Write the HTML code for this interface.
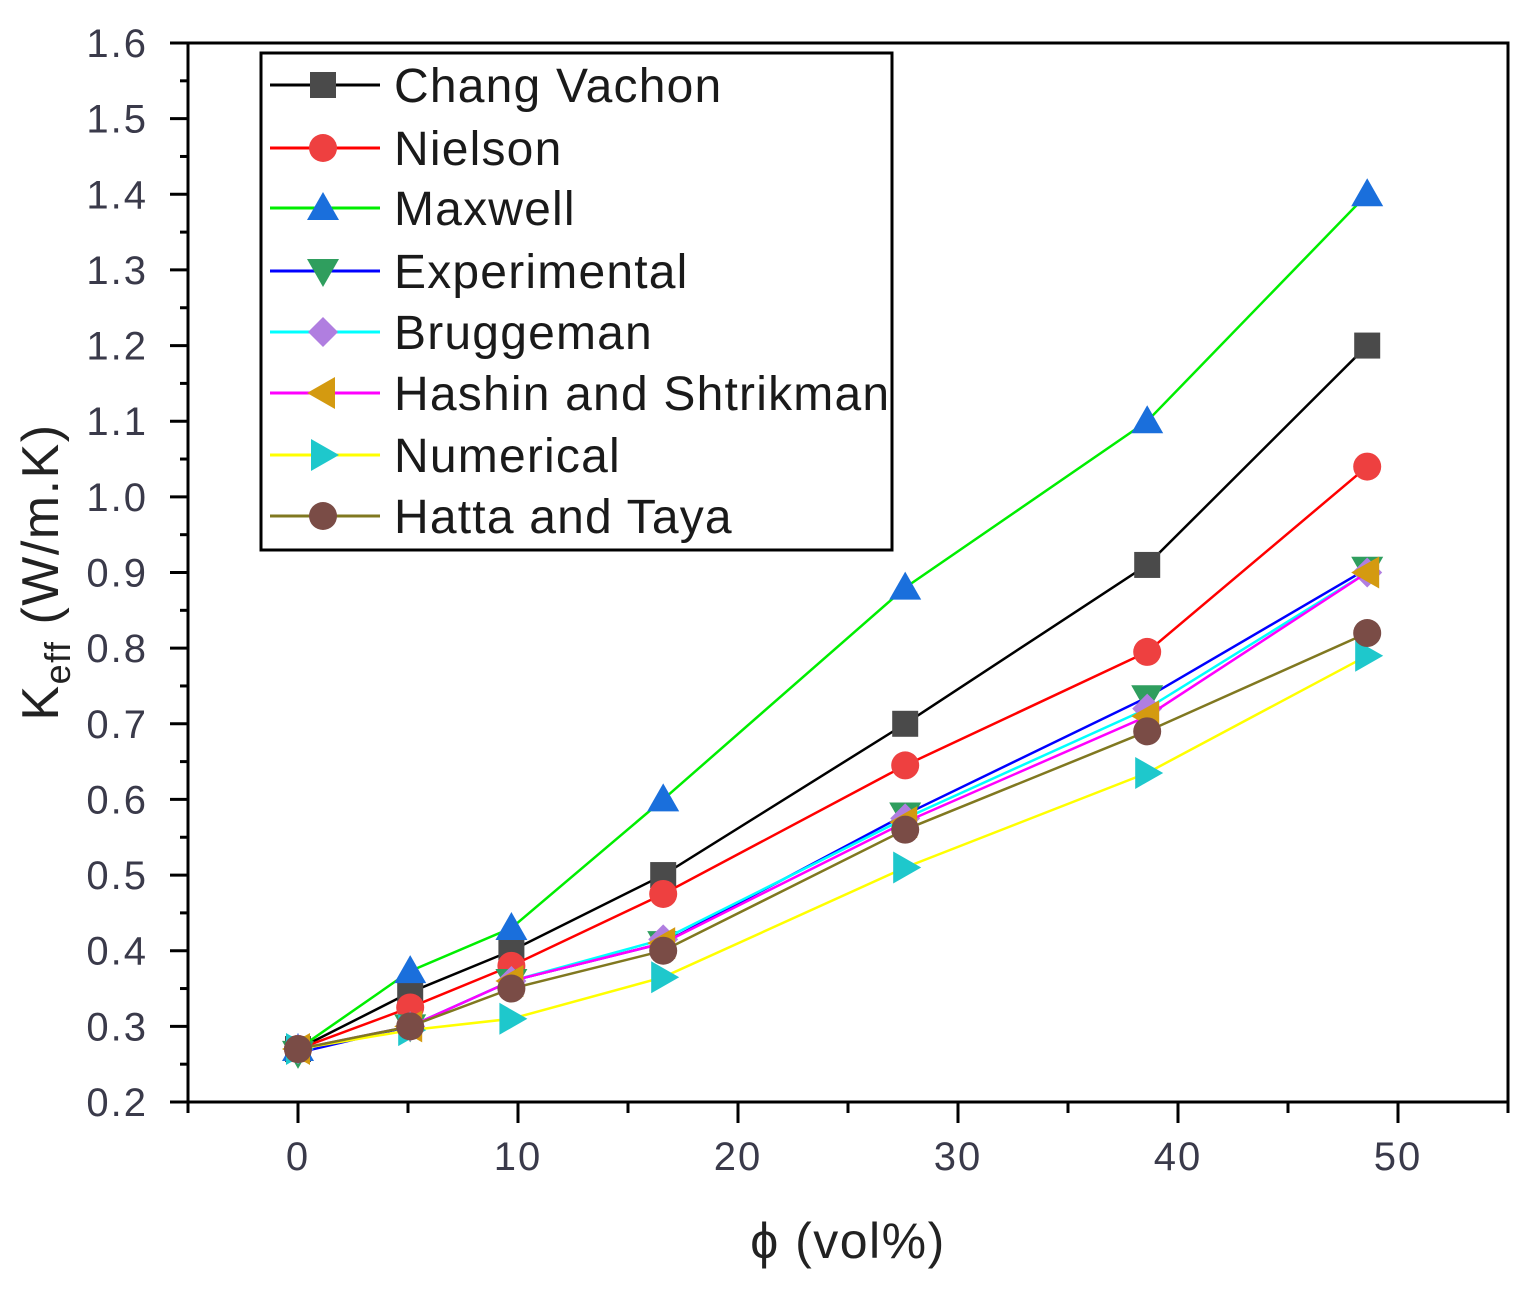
<!DOCTYPE html>
<html><head><meta charset="utf-8"><style>
html,body{margin:0;padding:0;background:#fff;}
svg text{font-family:"Liberation Sans",sans-serif;}
</style></head><body>
<svg id="chart" width="1531" height="1284" viewBox="0 0 1531 1284" xmlns="http://www.w3.org/2000/svg">
<g id="axes"></g>
<g id="series"></g>
<g id="legend"></g>
<text x="848" y="1258" font-size="50" letter-spacing="1.5" text-anchor="middle" fill="#222">ϕ (vol%)</text>
<text transform="translate(58,572) rotate(-90)" font-size="52" letter-spacing="1.5" text-anchor="middle" fill="#222">K<tspan font-size="36" dy="12">eff</tspan><tspan dy="-12"> (W/m.K)</tspan></text>
</svg>
<script>
const xVals=[0,5.1,9.7,16.6,27.6,38.6,48.6];
const changVachon=[0.27,0.345,0.40,0.50,0.70,0.91,1.20];
const nielson=[0.27,0.325,0.38,0.475,0.645,0.795,1.04];
const maxwell=[0.27,0.373,0.43,0.60,0.88,1.10,1.40];
const experimental=[0.265,0.30,0.36,0.41,0.58,0.735,0.905];
const bruggeman=[0.27,0.30,0.36,0.415,0.575,0.72,0.90];
const hashin=[0.27,0.30,0.36,0.41,0.57,0.71,0.90];
const numerical=[0.27,0.295,0.31,0.365,0.51,0.635,0.79];
const hattaTaya=[0.27,0.30,0.35,0.40,0.56,0.69,0.82];
const xTicks=[0,10,20,30,40,50];
const yTicks=[0.2,0.3,0.4,0.5,0.6,0.7,0.8,0.9,1.0,1.1,1.2,1.3,1.4,1.5,1.6];

const L=188,R=1508,T=43,B=1102;
const xMin=-5,xMax=55,yMin=0.2,yMax=1.6;
const sx=v=>L+(v-xMin)/(xMax-xMin)*(R-L);
const sy=v=>B-(v-yMin)/(yMax-yMin)*(B-T);
const NS="http://www.w3.org/2000/svg";
function mk(tag,attrs,parent){const e=document.createElementNS(NS,tag);for(const k in attrs)e.setAttribute(k,attrs[k]);parent.appendChild(e);return e;}
const axes=document.getElementById('axes');
let e;
e=mk('rect',{x:L,y:T,width:R-L,height:B-T,fill:'none',stroke:'#000','stroke-width':3},axes);


e=mk('line',{x1:170,y1:T,x2:L,y2:T,stroke:'#000','stroke-width':3},axes);


e=mk('line',{x1:170,y1:B,x2:L,y2:B,stroke:'#000','stroke-width':3},axes);


for(let v=-5;v<=55;v+=5){
  const major=Math.abs(v%10)<1e-9;
  e=mk('line',{x1:sx(v),y1:B,x2:sx(v),y2:B+(major?21:11),stroke:'#000','stroke-width':3},axes);
  
  
}
xTicks.forEach(v=>{
  e=mk('text',{x:sx(v),y:1170,'font-size':40,'letter-spacing':2,'text-anchor':'middle',fill:'#3a3a4a'},axes);
  e.textContent=v;
  
  
});
for(let i=0;i<=28;i++){
  const v=0.2+i*0.05;const major=i%2===0;
  e=mk('line',{x1:L-(major?18:8),y1:sy(v),x2:L,y2:sy(v),stroke:'#000','stroke-width':3},axes);
  
  
}
yTicks.forEach(v=>{
  e=mk('text',{x:148,y:sy(v)+14,'font-size':40,'letter-spacing':2,'text-anchor':'end',fill:'#3a3a4a'},axes);
  e.textContent=v.toFixed(1);
  
  
});

function marker(shape,cx,cy,fill,parent){
  const s=14;
  if(shape==='square')return mk('rect',{x:cx-s+1,y:cy-s+1,width:2*s-2,height:2*s-2,fill:fill},parent);
  if(shape==='circle')return mk('circle',{cx:cx,cy:cy,r:s,fill:fill},parent);
  if(shape==='up')return mk('polygon',{points:`${cx},${cy-s-2} ${cx+s+2},${cy+s-2} ${cx-s-2},${cy+s-2}`,fill:fill},parent);
  if(shape==='down')return mk('polygon',{points:`${cx},${cy+s+2} ${cx+s+2},${cy-s+2} ${cx-s-2},${cy-s+2}`,fill:fill},parent);
  if(shape==='diamond')return mk('polygon',{points:`${cx},${cy-s-1} ${cx+s+1},${cy} ${cx},${cy+s+1} ${cx-s-1},${cy}`,fill:fill},parent);
  if(shape==='left')return mk('polygon',{points:`${cx-s-2},${cy} ${cx+s-2},${cy-s-2} ${cx+s-2},${cy+s+2}`,fill:fill},parent);
  if(shape==='right')return mk('polygon',{points:`${cx+s+2},${cy} ${cx-s+2},${cy-s-2} ${cx-s+2},${cy+s+2}`,fill:fill},parent);
}
const seriesDefs=[
 {name:'Chang Vachon',key:'chang-vachon',data:changVachon,line:'#000',fill:'#4a4a4a',shape:'square'},
 {name:'Nielson',key:'nielson',data:nielson,line:'#ff0000',fill:'#ee4040',shape:'circle'},
 {name:'Maxwell',key:'maxwell',data:maxwell,line:'#00ee00',fill:'#1a6fdc',shape:'up'},
 {name:'Experimental',key:'experimental',data:experimental,line:'#0000ff',fill:'#2f9e5e',shape:'down'},
 {name:'Bruggeman',key:'bruggeman',data:bruggeman,line:'#00ffff',fill:'#b07ee0',shape:'diamond'},
 {name:'Hashin and Shtrikman',key:'hashin-shtrikman',data:hashin,line:'#ff00ff',fill:'#d49a10',shape:'left'},
 {name:'Numerical',key:'numerical',data:numerical,line:'#ffff00',fill:'#1ec8cc',shape:'right'},
 {name:'Hatta and Taya',key:'hatta-taya',data:hattaTaya,line:'#807820',fill:'#7a4c46',shape:'circle'}
];
const sg=document.getElementById('series');
seriesDefs.forEach(s=>{
  const g=mk('g',{},sg);
  
  
  const pl=mk('polyline',{points:s.data.map((v,i)=>sx(xVals[i])+','+sy(v)).join(' '),fill:'none',stroke:s.line,'stroke-width':2.5},g);
  
  
  s.data.forEach((v,i)=>{
    const m=marker(s.shape,sx(xVals[i]),sy(v),s.fill,g);
    
    
  });
});
const lg=document.getElementById('legend');
e=mk('rect',{x:261,y:53,width:631,height:497,fill:'#fff',stroke:'#000','stroke-width':3},lg);


const ly=[85,148,208,271,332,393,455,516];
seriesDefs.forEach((s,i)=>{
  const g=mk('g',{},lg);
  
  
  mk('line',{x1:270,y1:ly[i],x2:380,y2:ly[i],stroke:s.line,'stroke-width':3},g);
  marker(s.shape,323,ly[i],s.fill,g);
  const t=mk('text',{x:394,y:ly[i]+17,'font-size':48,'letter-spacing':1.2,fill:'#1a1a1a'},g);
  t.textContent=s.name;
});
</script>
</body></html>
